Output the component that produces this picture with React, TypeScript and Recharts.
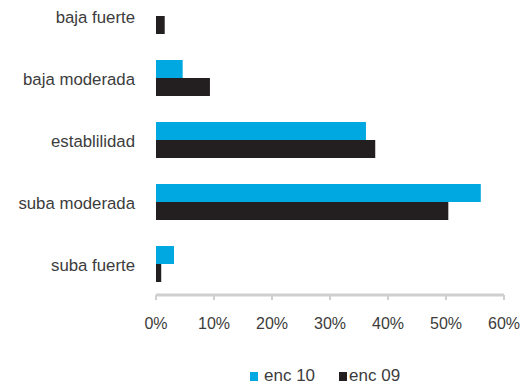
import React from 'react'
import {BarChart, Bar, XAxis, YAxis} from 'recharts'

const categories = ['baja fuerte', 'baja moderada', 'establilidad', 'suba moderada', 'suba fuerte']
const enc10 = [0, 4.6, 36.2, 56.0, 3.1]
const enc09 = [1.5, 9.3, 37.8, 50.4, 0.9]
const xTicks = [0, 10, 20, 30, 40, 50, 60]

const seriesNames = ['enc 10', 'enc 09']
const seriesColors = ['#00a8e1', '#231f20']

const data = categories.map((name, i) => ({name, enc10: enc10[i], enc09: enc09[i]}))

const font = '"Liberation Sans", Arial, Helvetica, sans-serif'
const textColor = '#3c3c3c'

const CategoryTick = (props: any) => {
    const {x, y, payload} = props
    return (
        <text x={x} y={y} dy={7} textAnchor="end" fill={textColor} fontSize={16.8} fontFamily={font}>
            {payload.value}
        </text>
    )
}

export default function App() {
    return (
        <div style={{position: 'absolute', left: 0, top: 0, width: 523, height: 388, overflow: 'hidden', background: '#fff'}}>
            <div style={{position: 'absolute', left: 0, top: -15}}>
                <BarChart
                    width={523}
                    height={360}
                    data={data}
                    layout="vertical"
                    margin={{top: 0, right: 19, bottom: 0, left: 0}}
                    barGap={0}
                    barSize={18}
                    style={{overflow: 'visible'}}
                >
                    <XAxis
                        type="number"
                        domain={[0, 60]}
                        ticks={xTicks}
                        tickFormatter={(v) => `${v}%`}
                        height={50}
                        axisLine={{stroke: '#cfcfcf', strokeWidth: 3}}
                        tickLine={{stroke: '#cfcfcf', strokeWidth: 2}}
                        tickSize={5}
                        tickMargin={18}
                        tick={{fill: textColor, fontSize: 16, fontFamily: font}}
                        interval={0}
                    />
                    <YAxis
                        type="category"
                        dataKey="name"
                        width={156}
                        axisLine={false}
                        tickLine={false}
                        tickSize={0}
                        tickMargin={21}
                        tick={<CategoryTick/>}
                        interval={0}
                    />
                    <Bar dataKey="enc10" name={seriesNames[0]} fill={seriesColors[0]} isAnimationActive={false}/>
                    <Bar dataKey="enc09" name={seriesNames[1]} fill={seriesColors[1]} isAnimationActive={false}/>
                </BarChart>
            </div>
            <div style={{position: 'absolute', top: 366, left: 250, display: 'flex', fontFamily: font, fontSize: 17, color: textColor}}>
                {seriesNames.map((n, i) => (
                    <div key={n} style={{display: 'flex', alignItems: 'center', marginRight: i === 0 ? 24 : 0}}>
                        <span style={{display: 'inline-block', width: 8, height: 9, background: seriesColors[i], marginRight: i === 0 ? 6 : 2}}/>
                        <span>{n}</span>
                    </div>
                ))}
            </div>
        </div>
    )
}
